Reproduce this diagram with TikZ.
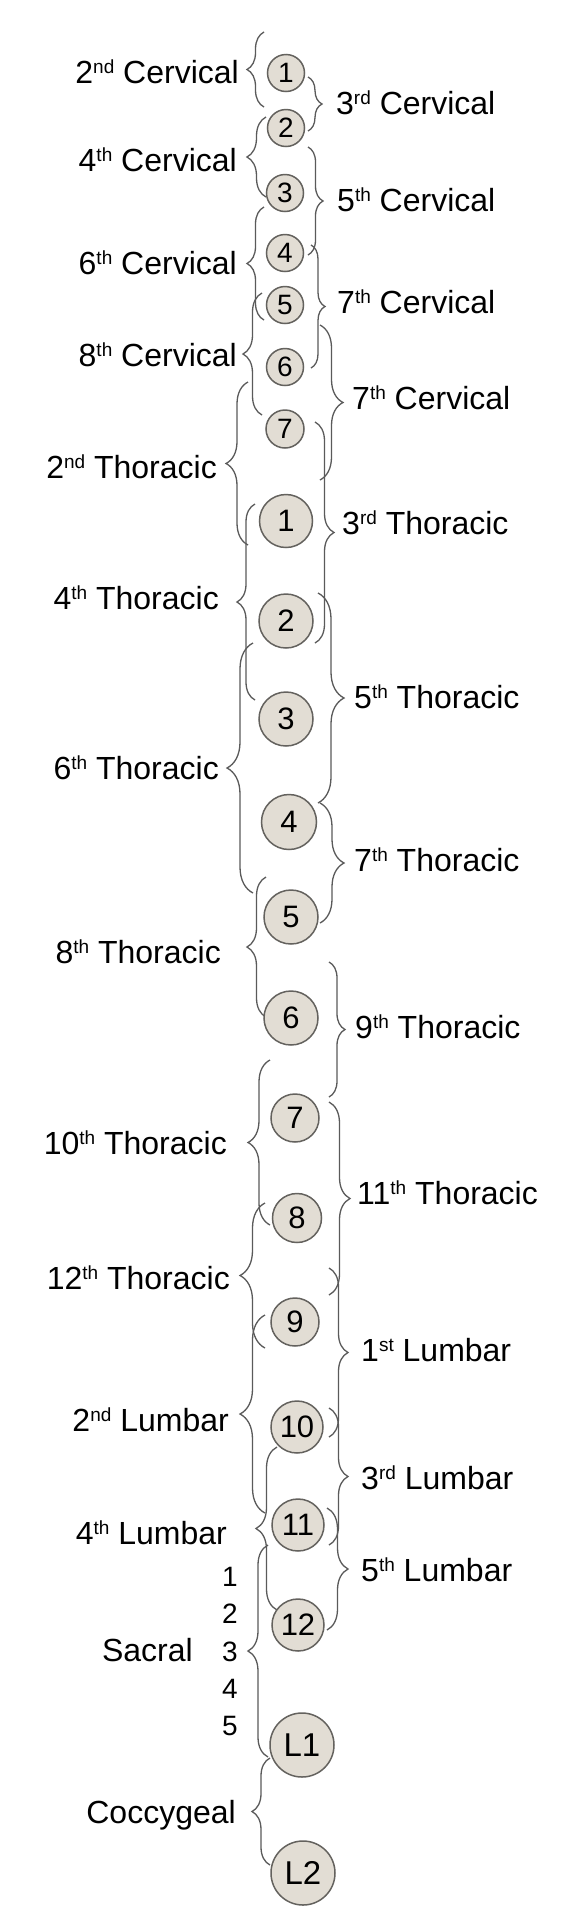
\documentclass[tikz,border=0pt]{standalone}
\usepackage{fontspec}
\setmainfont{Liberation Sans}
\usepackage{xcolor}
\usetikzlibrary{decorations.pathreplacing, positioning}

\definecolor{boneFill}{RGB}{226,221,212}
\definecolor{boneLine}{RGB}{100,98,94}
\definecolor{braceGray}{RGB}{90,90,90}

\newcommand{\ordsup}[1]{\raisebox{10pt}{\fontsize{19}{19}\selectfont #1}}

\begin{document}
\begin{tikzpicture}[
    x=1pt, y=-1pt,
    bone/.style={circle, draw=boneLine, line width=1.5pt, fill=boneFill, inner sep=0pt, minimum size=#1, font=\fontsize{31}{31}\selectfont},
    lbl/.style={inner sep=0pt, font=\fontsize{32}{38}\selectfont},
    num/.style={inner sep=0pt, font=\fontsize{28}{28}\selectfont},
    lbrace/.style={draw=braceGray, line width=1.3pt, decorate, decoration={brace, amplitude=#1}},
    rbrace/.style={draw=braceGray, line width=1.3pt, decorate, decoration={brace, amplitude=#1}}
]
    \useasboundingbox[fill=white] (0,0) rectangle (560,1920);

    % Left braces (drawn upwards)
    \coordinate (c2b) at (264,107);  \coordinate (c2t) at (264,32);   \draw[lbrace=17] (c2b) -- (c2t);
    \coordinate (c4b) at (266,197);  \coordinate (c4t) at (266,117);  \draw[lbrace=19] (c4b) -- (c4t);
    \coordinate (c6b) at (264,320);  \coordinate (c6t) at (264,207);  \draw[lbrace=17] (c6b) -- (c6t);
    \coordinate (c8b) at (262,415);  \coordinate (c8t) at (262,293);  \draw[lbrace=19] (c8b) -- (c8t);
    \coordinate (t2b) at (248,545);  \coordinate (t2t) at (248,382);  \draw[lbrace=22] (t2b) -- (t2t);
    \coordinate (t4b) at (255,700);  \coordinate (t4t) at (255,504);  \draw[lbrace=18] (t4b) -- (t4t);
    \coordinate (t6b) at (253,893);  \coordinate (t6t) at (253,643);  \draw[lbrace=26] (t6b) -- (t6t);
    \coordinate (t8b) at (266,1017); \coordinate (t8t) at (266,877);  \draw[lbrace=19] (t8b) -- (t8t);
    \coordinate (t10b) at (270,1225); \coordinate (t10t) at (270,1060); \draw[lbrace=22] (t10b) -- (t10t);
    \coordinate (t12b) at (265,1348); \coordinate (t12t) at (265,1203); \draw[lbrace=25] (t12b) -- (t12t);
    \coordinate (l2b) at (265,1513); \coordinate (l2t) at (265,1315); \draw[lbrace=25] (l2b) -- (l2t);
    \coordinate (l4b) at (277,1610); \coordinate (l4t) at (277,1447); \draw[lbrace=21] (l4b) -- (l4t);
    \coordinate (sab) at (268,1757); \coordinate (sat) at (268,1545); \draw[lbrace=20] (sab) -- (sat);
    \coordinate (cob) at (270,1865); \coordinate (cot) at (270,1758); \draw[lbrace=18] (cob) -- (cot);

    % Right braces (drawn downwards)
    \coordinate (c3t) at (308,77);   \coordinate (c3b) at (308,131);  \draw[rbrace=14] (c3t) -- (c3b);
    \coordinate (c5t) at (308,147);  \coordinate (c5b) at (308,255);  \draw[rbrace=15] (c5t) -- (c5b);
    \coordinate (c7t) at (311,245);  \coordinate (c7b) at (311,368);  \draw[rbrace=14] (c7t) -- (c7b);
    \coordinate (c7u) at (320,325);  \coordinate (c7v) at (320,480);  \draw[rbrace=23] (c7u) -- (c7v);
    \coordinate (t3t) at (315,422);  \coordinate (t3b) at (315,643);  \draw[rbrace=19] (t3t) -- (t3b);
    \coordinate (t5t) at (318,593);  \coordinate (t5b) at (318,803);  \draw[rbrace=26] (t5t) -- (t5b);
    \coordinate (t7t) at (320,803);  \coordinate (t7b) at (320,923);  \draw[rbrace=24] (t7t) -- (t7b);
    \coordinate (t9t) at (329,962);  \coordinate (t9b) at (329,1097); \draw[rbrace=16] (t9t) -- (t9b);
    \coordinate (t11t) at (329,1102); \coordinate (t11b) at (329,1295); \draw[rbrace=21] (t11t) -- (t11b);
    \coordinate (l1t) at (329,1268); \coordinate (l1b) at (329,1437); \draw[rbrace=19] (l1t) -- (l1b);
    \coordinate (l3t) at (329,1408); \coordinate (l3b) at (329,1545); \draw[rbrace=19] (l3t) -- (l3b);
    \coordinate (l5t) at (327,1508); \coordinate (l5b) at (327,1630); \draw[rbrace=21] (l5t) -- (l5b);

    % Vertebrae
    \node[bone=37pt, font=\fontsize{28}{28}\selectfont] (cv1) at (286,73) {1};
    \node[bone=37pt, font=\fontsize{28}{28}\selectfont] (cv2) at (286,128) {2};
    \node[bone=37pt, font=\fontsize{28}{28}\selectfont] (cv3) at (285,193) {3};
    \node[bone=37pt, font=\fontsize{28}{28}\selectfont] (cv4) at (285,253) {4};
    \node[bone=37pt, font=\fontsize{28}{28}\selectfont] (cv5) at (285,305) {5};
    \node[bone=37pt, font=\fontsize{28}{28}\selectfont] (cv6) at (285,367) {6};
    \node[bone=38pt, font=\fontsize{28}{28}\selectfont] (cv7) at (285,429) {7};
    \node[bone=53pt] (th1) at (286,521) {1};
    \node[bone=54pt] (th2) at (286,621) {2};
    \node[bone=54pt] (th3) at (286,719) {3};
    \node[bone=55pt] (th4) at (289,822) {4};
    \node[bone=54pt] (th5) at (291,917) {5};
    \node[bone=54pt] (th6) at (291,1018) {6};
    \node[bone=48pt] (th7) at (295,1118) {7};
    \node[bone=49pt] (th8) at (297,1218) {8};
    \node[bone=48pt] (th9) at (295,1322) {9};
    \node[bone=52pt] (th10) at (297,1427) {10};
    \node[bone=52pt] (th11) at (298,1525) {11};
    \node[bone=52pt] (th12) at (298,1625) {12};
    \node[bone=64pt, font=\fontsize{33}{33}\selectfont] (lu1) at (302,1745) {L1};
    \node[bone=64pt, font=\fontsize{33}{33}\selectfont] (lu2) at (303,1873) {L2};

    % Left labels
    \node[lbl, anchor=base east] (lc2) at (239,83.5) {2\ordsup{nd} Cervical};
    \node[lbl, anchor=base east] (lc4) at (237,171.5) {4\ordsup{th} Cervical};
    \node[lbl, anchor=base east] (lc6) at (237,274.5) {6\ordsup{th} Cervical};
    \node[lbl, anchor=base east] (lc8) at (237,366.5) {8\ordsup{th} Cervical};
    \node[lbl, anchor=base east] (lt2) at (217,478.5) {2\ordsup{nd} Thoracic};
    \node[lbl, anchor=base east] (lt4) at (219,609.5) {4\ordsup{th} Thoracic};
    \node[lbl, anchor=base east] (lt6) at (219,779.5) {6\ordsup{th} Thoracic};
    \node[lbl, anchor=base east] (lt8) at (221,963.5) {8\ordsup{th} Thoracic};
    \node[lbl, anchor=base east] (lt10) at (227,1154.5) {10\ordsup{th} Thoracic};
    \node[lbl, anchor=base east] (lt12) at (230,1289.5) {12\ordsup{th} Thoracic};
    \node[lbl, anchor=base east] (ll2) at (229,1431.5) {2\ordsup{nd} Lumbar};
    \node[lbl, anchor=base east] (ll4) at (227,1544.5) {4\ordsup{th} Lumbar};
    \node[lbl, anchor=base east] (lsa) at (193,1661.5) {Sacral};
    \node[lbl, anchor=base east] (lco) at (236,1823.5) {Coccygeal};

    % Sacral segments
    \node[num] (s1) at (230,1577) {1};
    \node[num] (s2) at (230,1614) {2};
    \node[num] (s3) at (230,1652) {3};
    \node[num] (s4) at (230,1689) {4};
    \node[num] (s5) at (230,1726) {5};

    % Right labels
    \node[lbl, anchor=base west] (rc3) at (336,114.5) {3\ordsup{rd} Cervical};
    \node[lbl, anchor=base west] (rc5) at (337,211.5) {5\ordsup{th} Cervical};
    \node[lbl, anchor=base west] (rc7) at (337,313.5) {7\ordsup{th} Cervical};
    \node[lbl, anchor=base west] (rc7b) at (352,409.5) {7\ordsup{th} Cervical};
    \node[lbl, anchor=base west] (rt3) at (342,534.5) {3\ordsup{rd} Thoracic};
    \node[lbl, anchor=base west] (rt5) at (354,708.5) {5\ordsup{th} Thoracic};
    \node[lbl, anchor=base west] (rt7) at (354,871.5) {7\ordsup{th} Thoracic};
    \node[lbl, anchor=base west] (rt9) at (355,1038.5) {9\ordsup{th} Thoracic};
    \node[lbl, anchor=base west] (rt11) at (357,1204.5) {11\ordsup{th} Thoracic};
    \node[lbl, anchor=base west] (rl1) at (361,1361.5) {1\ordsup{st} Lumbar};
    \node[lbl, anchor=base west] (rl3) at (361,1489.5) {3\ordsup{rd} Lumbar};
    \node[lbl, anchor=base west] (rl5) at (361,1581.5) {5\ordsup{th} Lumbar};

\end{tikzpicture}
\end{document}
